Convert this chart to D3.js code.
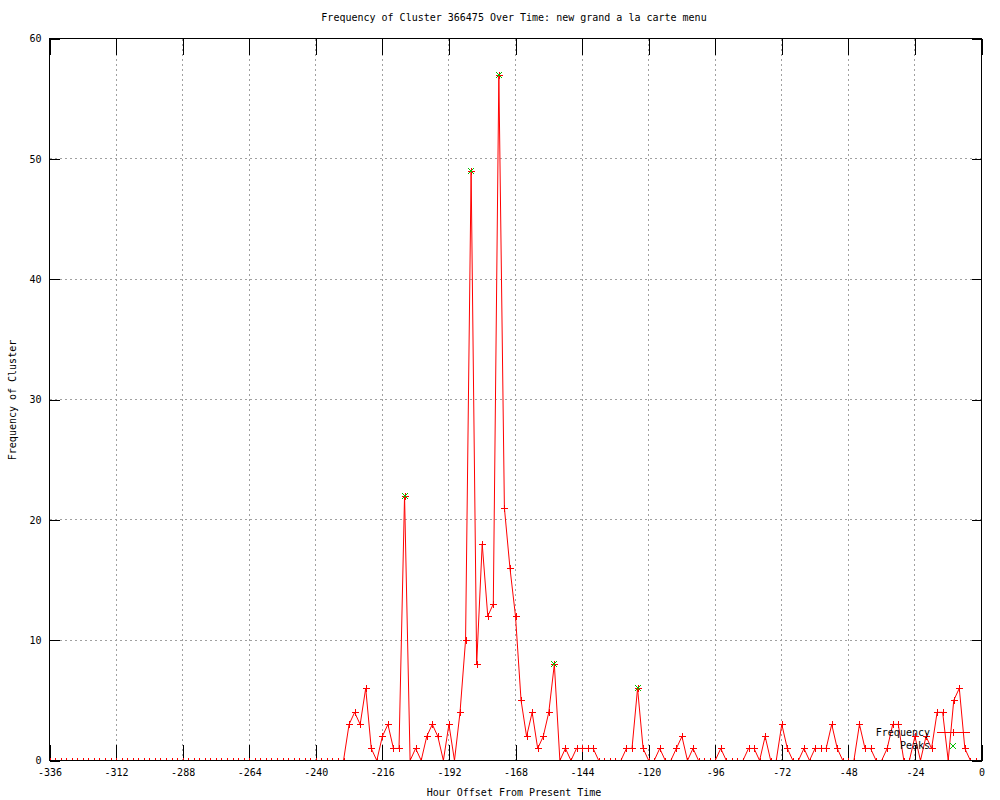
<!DOCTYPE html>
<html>
<head>
<meta charset="utf-8">
<script src="https://cdn.jsdelivr.net/npm/d3@7"></script>
<style>
body { margin: 0; background: #ffffff; }
svg { font-family: "DejaVu Sans Mono", monospace; font-size: 10px; }
</style>
</head>
<body>
<svg id="chart" width="1000" height="800"></svg>
<script>
// hourly counts, one value every 2 hours starting at -336
var startHour = -336;
var stepHours = 2;
var frequency = [
    0,0,0,0,0,0,0,0,0,0,0,0,
    0,0,0,0,0,0,0,0,0,0,0,0,
    0,0,0,0,0,0,0,0,0,0,0,0,
    0,0,0,0,0,0,0,0,0,0,0,0,
    0,0,0,0,0,0,
    3,4,3,6,1,0,2,3,1,1,22,0,
    1,0,2,3,2,0,3,0,4,10,49,8,
    18,12,13,57,21,16,12,5,2,4,1,2,
    4,8,0,1,0,1,1,1,1,0,0,0,
    0,0,1,1,6,1,0,0,1,0,0,1,
    2,0,1,0,0,0,0,1,0,0,0,0,
    1,1,0,2,0,0,3,1,0,0,1,0,
    1,1,1,3,1,0,0,0,3,1,1,0,
    0,1,3,3,0,0,2,0,2,1,4,4,
    0,5,6,1,0,0
];

var peakHours = [-208, -184, -174, -154, -124];
var peakValues = [22, 49, 57, 8, 6];

var xTicks = [-336, -312, -288, -264, -240, -216, -192, -168, -144, -120, -96, -72, -48, -24, 0];
var yTicks = [0, 10, 20, 30, 40, 50, 60];

var titleText = "Frequency of Cluster 366475 Over Time: new grand a la carte menu";
var xLabel = "Hour Offset From Present Time";
var yLabel = "Frequency of Cluster";

var points = frequency.map(function(v, i) {
    return {hour: startHour + i * stepHours, value: v};
});
var peaks = peakHours.map(function(h, i) {
    return {hour: h, value: peakValues[i]};
});

var svg = d3.select("#chart");

var x = d3.scaleLinear().domain([-336, 0]).range([49.5, 981.5]);
var y = d3.scaleLinear().domain([0, 60]).range([760.5, 38.5]);

var plotLeft = x.range()[0], plotRight = x.range()[1];
var plotTop = y.range()[1], plotBottom = y.range()[0];

svg.append("defs").append("clipPath")
    .attr("id", "plotClip")
  .append("rect")
    .attr("x", plotLeft)
    .attr("y", plotTop)
    .attr("width", plotRight - plotLeft)
    .attr("height", plotBottom - plotTop);

// dotted grid
var grid = svg.append("g")
    .attr("stroke", "#a0a0a0")
    .attr("stroke-dasharray", "2,3")
    .attr("shape-rendering", "crispEdges");

grid.selectAll(".vgrid")
    .data(xTicks.filter(function(d) { return d > -336 && d < 0; }))
    .enter().append("line")
    .attr("x1", function(d) { return x(d); })
    .attr("x2", function(d) { return x(d); })
    .attr("y1", plotTop)
    .attr("y2", plotBottom);

grid.selectAll(".hgrid")
    .data(yTicks.filter(function(d) { return d > 0 && d < 60; }))
    .enter().append("line")
    .attr("x1", plotLeft)
    .attr("x2", plotRight)
    .attr("y1", function(d) { return y(d); })
    .attr("y2", function(d) { return y(d); });

// axes, gnuplot style ticks on all four sides
var plainFormat = function(d) { return String(d); };

svg.append("g")
    .attr("class", "axis")
    .attr("transform", "translate(0," + plotBottom + ")")
    .call(d3.axisBottom(x).tickValues(xTicks).tickSize(-16).tickPadding(8).tickFormat(plainFormat));
svg.append("g")
    .attr("class", "axis")
    .attr("transform", "translate(0," + plotTop + ")")
    .call(d3.axisTop(x).tickValues(xTicks).tickSize(-16).tickFormat(""));
svg.append("g")
    .attr("class", "axis")
    .attr("transform", "translate(" + plotLeft + ",0)")
    .call(d3.axisLeft(y).tickValues(yTicks).tickSize(-10).tickPadding(8).tickFormat(plainFormat));
svg.append("g")
    .attr("class", "axis")
    .attr("transform", "translate(" + plotRight + ",0)")
    .call(d3.axisRight(y).tickValues(yTicks).tickSize(-10).tickFormat(""));

svg.selectAll(".domain").remove();
svg.selectAll(".axis")
    .attr("font-family", "DejaVu Sans Mono, monospace")
    .attr("font-size", "10px");
svg.selectAll(".tick line").attr("shape-rendering", "crispEdges");
svg.selectAll(".tick text").attr("fill", "#000");

// data
var plot = svg.append("g").attr("clip-path", "url(#plotClip)");

var line = d3.line()
    .x(function(d) { return x(d.hour); })
    .y(function(d) { return y(d.value); });

plot.append("path")
    .datum(points)
    .attr("fill", "none")
    .attr("stroke", "#ff0000")
    .attr("stroke-width", 1)
    .attr("d", line);

var plusPath = "M-3.5,0H3.5M0,-3.5V3.5";
var crossPath = "M-3,-3L3,3M-3,3L3,-3";

plot.selectAll(".pt")
    .data(points)
    .enter().append("path")
    .attr("transform", function(d) { return "translate(" + Math.round(x(d.hour)) + "," + Math.round(y(d.value)) + ")"; })
    .attr("d", plusPath)
    .attr("stroke", "#ff0000")
    .attr("fill", "none")
    .attr("shape-rendering", "crispEdges");

plot.selectAll(".peak")
    .data(peaks)
    .enter().append("path")
    .attr("transform", function(d) { return "translate(" + Math.round(x(d.hour)) + "," + Math.round(y(d.value)) + ")"; })
    .attr("d", crossPath)
    .attr("stroke", "#00c000")
    .attr("fill", "none");

// border
svg.append("rect")
    .attr("x", plotLeft)
    .attr("y", plotTop)
    .attr("width", plotRight - plotLeft)
    .attr("height", plotBottom - plotTop)
    .attr("fill", "none")
    .attr("stroke", "#000")
    .attr("shape-rendering", "crispEdges");

// key
var key = svg.append("g");
key.append("text")
    .attr("x", 930).attr("y", 733)
    .attr("text-anchor", "end")
    .attr("dominant-baseline", "middle")
    .text("Frequency");
key.append("line")
    .attr("x1", 937).attr("x2", 970)
    .attr("y1", 732.5).attr("y2", 732.5)
    .attr("stroke", "#ff0000")
    .attr("shape-rendering", "crispEdges");
key.append("path")
    .attr("transform", "translate(953,732)")
    .attr("d", plusPath)
    .attr("stroke", "#ff0000")
    .attr("shape-rendering", "crispEdges");
key.append("text")
    .attr("x", 930).attr("y", 746)
    .attr("text-anchor", "end")
    .attr("dominant-baseline", "middle")
    .text("Peaks");
key.append("path")
    .attr("transform", "translate(953,746)")
    .attr("d", crossPath)
    .attr("stroke", "#00c000");

// titles
svg.append("text")
    .attr("x", 514).attr("y", 18)
    .attr("text-anchor", "middle")
    .attr("dominant-baseline", "middle")
    .text(titleText);

svg.append("text")
    .attr("x", 514).attr("y", 793)
    .attr("text-anchor", "middle")
    .attr("dominant-baseline", "middle")
    .text(xLabel);

svg.append("text")
    .attr("transform", "translate(13,400) rotate(-90)")
    .attr("text-anchor", "middle")
    .attr("dominant-baseline", "middle")
    .text(yLabel);
</script>
</body>
</html>
